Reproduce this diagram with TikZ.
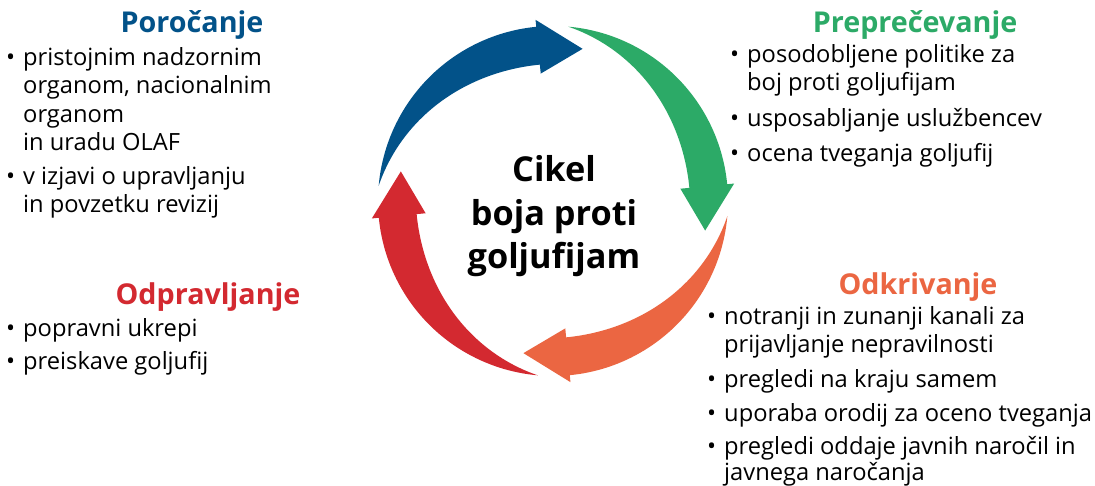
\documentclass[tikz,border=0pt]{standalone}
\usepackage{fontspec}
\setmainfont{Open Sans}
\definecolor{cblue}{RGB}{2,82,137}
\definecolor{cgreen}{RGB}{44,170,103}
\definecolor{corange}{RGB}{235,102,66}
\definecolor{cred}{RGB}{211,41,48}
\newcommand{\cyclearrow}[2]{%
 \pgfmathsetmacro\tA{#1}%
 \pgfmathsetmacro\bA{#1-79.5}%
 \pgfmathsetmacro\pA{#1-96}%
 \fill[#2] plot[domain=\tA:\bA, samples=50] ({553+175*cos(\x)},{285+175*sin(\x)})
   -- ({553+182*cos(\bA)},{285+182*sin(\bA)})
   -- ({553+155*cos(\pA)},{285+155*sin(\pA)})
   -- ({553+128*cos(\bA)},{285+128*sin(\bA)})
   -- ({553+137*cos(\bA)},{285+137*sin(\bA)})
   -- plot[domain=\bA:\tA, samples=50] ({553+(175-38*sin(90*(\tA-(\x))/79.5))*cos(\x)},{285+(175-38*sin(90*(\tA-(\x))/79.5))*sin(\x)})
   -- cycle;
}
\begin{document}
\begin{tikzpicture}[x=1pt,y=1pt,
  body/.style={anchor=base west, inner sep=0pt, font=\fontsize{23.7}{28}\selectfont},
  bul/.style={anchor=base west, inner sep=0pt, font=\fontsize{24}{28}\selectfont},
  ttl/.style={anchor=base, inner sep=0pt, font=\fontsize{28.7}{32}\selectfont\bfseries},
  ctr/.style={anchor=base, inner sep=0pt, font=\fontsize{34.3}{42}\selectfont\bfseries},
]
\useasboundingbox (0,0) rectangle (1095,486);
\fill[white] (0,0) rectangle (1095,486);
\cyclearrow{175}{cblue}
\cyclearrow{85}{cgreen}
\cyclearrow{-5}{corange}
\cyclearrow{-95}{cred}
% centre
\node[ctr] (c1) at (554,486-182) {Cikel};
\node[ctr] (c2) at (554,486-226) {boja proti};
\node[ctr] (c3) at (554,486-269) {goljufijam};
% Poročanje
\node[ttl, text=cblue] (t1) at (192,486-33) {Poročanje};
\node[bul] (b11) at (6,486-66) {•};
\node[body] (l11) at (23,486-66) {pristojnim nadzornim};
\node[body] (l12) at (23,486-94) {organom, nacionalnim};
\node[body] (l13) at (23,486-123) {organom};
\node[body] (l14) at (23,486-151) {in uradu OLAF};
\node[bul] (b12) at (6,486-185) {•};
\node[body] (l15) at (23,486-185) {v izjavi o upravljanju};
\node[body] (l16) at (23,486-213) {in povzetku revizij};
% Preprečevanje
\node[ttl, text=cgreen] (t2) at (915,486-33) {Preprečevanje};
\node[bul] (b21) at (730,486-63) {•};
\node[body] (l21) at (747,486-63) {posodobljene politike za};
\node[body] (l22) at (747,486-91) {boj proti goljufijam};
\node[bul] (b22) at (730,486-127) {•};
\node[body] (l23) at (747,486-127) {usposabljanje uslužbencev};
\node[bul] (b23) at (730,486-162) {•};
\node[body] (l24) at (747,486-162) {ocena tveganja goljufij};
% Odkrivanje
\node[ttl, text=corange] (t3) at (918,486-295) {Odkrivanje};
\node[bul] (b31) at (707,486-325) {•};
\node[body] (l31) at (724,486-325) {notranji in zunanji kanali za};
\node[body] (l32) at (724,486-353) {prijavljanje nepravilnosti};
\node[bul] (b32) at (707,486-388) {•};
\node[body] (l33) at (724,486-388) {pregledi na kraju samem};
\node[bul] (b33) at (707,486-422) {•};
\node[body] (l34) at (724,486-422) {uporaba orodij za oceno tveganja};
\node[bul] (b34) at (707,486-455) {•};
\node[body] (l35) at (724,486-455) {pregledi oddaje javnih naročil in};
\node[body] (l36) at (724,486-481) {javnega naročanja};
% Odpravljanje
\node[ttl, text=cred] (t4) at (208,486-305) {Odpravljanje};
\node[bul] (b41) at (6,486-337) {•};
\node[body] (l41) at (23,486-337) {popravni ukrepi};
\node[bul] (b42) at (6,486-370) {•};
\node[body] (l42) at (23,486-370) {preiskave goljufij};
\end{tikzpicture}
\end{document}
